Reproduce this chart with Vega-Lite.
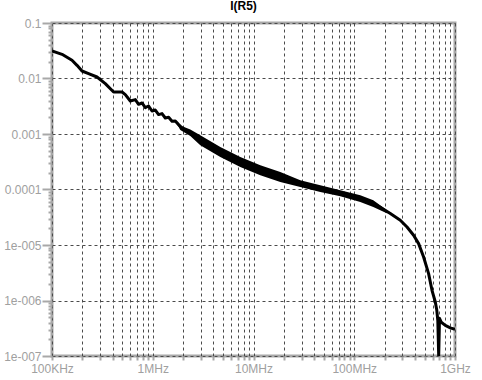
{
  "$schema": "https://vega.github.io/schema/vega-lite/v6.json",
  "width": 403,
  "height": 333,
  "autosize": "none",
  "padding": {"left": 52, "top": 23, "right": 27, "bottom": 24},
  "background": "white",
  "title": {"text": "I(R5)", "font": "Liberation Sans", "fontSize": 12, "fontWeight": "bold", "color": "#000000", "anchor": "middle", "offset": 4, "dx": -10},
  "config": {
    "view": {"stroke": "#a8a8a8", "strokeWidth": 3},
    "axis": {"domain": false, "labelFont": "Liberation Sans", "labelFontSize": 12, "labelColor": "#a0a0a0", "tickColor": "#a8a8a8", "tickWidth": 2, "gridColor": "#4a4a4a", "gridDash": [3, 3], "gridWidth": 1, "title": null}
  },
  "datasets": {
    "curve": [
      {"f": 100000, "i": 0.0313},
      {"f": 125700, "i": 0.02729},
      {"f": 157900, "i": 0.02128},
      {"f": 177100, "i": 0.01728},
      {"f": 198600, "i": 0.01365},
      {"f": 230800, "i": 0.01225},
      {"f": 279700, "i": 0.01064},
      {"f": 338100, "i": 0.00809},
      {"f": 408700, "i": 0.00571},
      {"f": 495300, "i": 0.00571},
      {"f": 534100, "i": 0.00513},
      {"f": 598700, "i": 0.003935},
      {"f": 671200, "i": 0.004169},
      {"f": 723800, "i": 0.003428},
      {"f": 782400, "i": 0.003622},
      {"f": 843700, "i": 0.002992},
      {"f": 909600, "i": 0.003197},
      {"f": 983100, "i": 0.002597},
      {"f": 1060000, "i": 0.002705},
      {"f": 1143400, "i": 0.002239},
      {"f": 1235600, "i": 0.002333},
      {"f": 1332400, "i": 0.001943},
      {"f": 1436600, "i": 0.002},
      {"f": 1553000, "i": 0.001694},
      {"f": 1674500, "i": 0.001714},
      {"f": 1805400, "i": 0.001476},
      {"f": 1965300, "i": 0.001267},
      {"f": 2359000, "i": 0.001073},
      {"f": 2964800, "i": 0.0007698},
      {"f": 3725500, "i": 0.0006003},
      {"f": 4682800, "i": 0.0004739},
      {"f": 5885500, "i": 0.0003804},
      {"f": 7396100, "i": 0.0003129},
      {"f": 9294000, "i": 0.0002618},
      {"f": 11682000, "i": 0.0002218},
      {"f": 14679000, "i": 0.0002042},
      {"f": 18450000, "i": 0.000168},
      {"f": 23190000, "i": 0.0001465},
      {"f": 29140000, "i": 0.0001277},
      {"f": 36630000, "i": 0.0001143},
      {"f": 46030000, "i": 0.0001038},
      {"f": 57850000, "i": 0.0000929},
      {"f": 72700000, "i": 0.0000843},
      {"f": 91380000, "i": 0.0000754},
      {"f": 114820000, "i": 0.0000686},
      {"f": 155650000, "i": 0.0000557},
      {"f": 181400000, "i": 0.0000478},
      {"f": 228000000, "i": 0.0000368},
      {"f": 286500000, "i": 0.0000279},
      {"f": 333900000, "i": 0.0000211},
      {"f": 388300000, "i": 0.00001496},
      {"f": 435400000, "i": 0.00001059},
      {"f": 488000000, "i": 0.00000608},
      {"f": 547000000, "i": 0.00000305},
      {"f": 591100000, "i": 0.000001527},
      {"f": 637600000, "i": 0.00000094},
      {"f": 659800000, "i": 0.000000665},
      {"f": 675000000, "i": 0.00000044},
      {"f": 689000000, "i": 0.0000001},
      {"f": 701800000, "i": 0.000000478},
      {"f": 731100000, "i": 0.000000405},
      {"f": 801000000, "i": 0.000000357},
      {"f": 898300000, "i": 0.000000322},
      {"f": 1000000000, "i": 0.000000303}
    ],
    "band": [
      {"f": 1674500, "hi": 0.00172, "lo": 0.00171},
      {"f": 1877000, "hi": 0.00142, "lo": 0.00118},
      {"f": 2359000, "hi": 0.00120, "lo": 0.00092},
      {"f": 2964800, "hi": 0.0009475, "lo": 0.0006258},
      {"f": 4682800, "hi": 0.000583, "lo": 0.000385},
      {"f": 7396100, "hi": 0.000385, "lo": 0.000254},
      {"f": 11682000, "hi": 0.000273, "lo": 0.00018},
      {"f": 18450000, "hi": 0.0002066, "lo": 0.0001365},
      {"f": 29140000, "hi": 0.0001465, "lo": 0.0001109},
      {"f": 46030000, "hi": 0.0001191, "lo": 0.0000902},
      {"f": 72700000, "hi": 0.0000968, "lo": 0.0000754},
      {"f": 114820000, "hi": 0.0000786, "lo": 0.0000596},
      {"f": 154500000, "hi": 0.0000638, "lo": 0.0000484},
      {"f": 213000000, "hi": 0.0000420, "lo": 0.0000370}
    ]
  },
  "layer": [
    {
      "data": {"name": "band"},
      "mark": {"type": "area", "color": "#000000", "clip": true},
      "encoding": {
        "x": {"field": "f", "type": "quantitative", "scale": {"type": "log", "domain": [100000, 1000000000], "nice": false},
          "axis": {
            "values": [100000,200000,300000,400000,500000,600000,700000,800000,900000,1000000,2000000,3000000,4000000,5000000,6000000,7000000,8000000,9000000,10000000,20000000,30000000,40000000,50000000,60000000,70000000,80000000,90000000,100000000,200000000,300000000,400000000,500000000,600000000,700000000,800000000,900000000,1000000000],
            "labelExpr": "abs(datum.value-1e5)<1 ? '100KHz' : abs(datum.value-1e6)<1 ? '1MHz' : abs(datum.value-1e7)<1 ? '10MHz' : abs(datum.value-1e8)<1 ? '100MHz' : abs(datum.value-1e9)<1 ? '1GHz' : ''",
            "labelOverlap": false,
            "labelFlush": false,
            "tickSize": 4,
            "labelPadding": 3,
            "grid": true
          }},
        "y": {"field": "hi", "type": "quantitative", "scale": {"type": "log", "domain": [1e-7, 0.1], "nice": false},
          "axis": {
            "values": [1e-7,2e-7,3e-7,4e-7,5e-7,6e-7,7e-7,8e-7,9e-7,1e-6,2e-6,3e-6,4e-6,5e-6,6e-6,7e-6,8e-6,9e-6,1e-5,2e-5,3e-5,4e-5,5e-5,6e-5,7e-5,8e-5,9e-5,1e-4,2e-4,3e-4,4e-4,5e-4,6e-4,7e-4,8e-4,9e-4,0.001,0.002,0.003,0.004,0.005,0.006,0.007,0.008,0.009,0.01,0.02,0.03,0.04,0.05,0.06,0.07,0.08,0.09,0.1],
            "labelExpr": "abs(log(datum.value)/LN10 + 1) < 0.001 ? '0.1' : abs(log(datum.value)/LN10 + 2) < 0.001 ? '0.01' : abs(log(datum.value)/LN10 + 3) < 0.001 ? '0.001' : abs(log(datum.value)/LN10 + 4) < 0.001 ? '0.0001' : abs(log(datum.value)/LN10 + 5) < 0.001 ? '1e-005' : abs(log(datum.value)/LN10 + 6) < 0.001 ? '1e-006' : abs(log(datum.value)/LN10 + 7) < 0.001 ? '1e-007' : ''",
            "labelOverlap": false,
            "labelFlush": false,
            "labelPadding": 1,
            "grid": true,
            "gridOpacity": {"condition": {"test": "abs(log(datum.value)/LN10 - round(log(datum.value)/LN10)) < 0.001", "value": 1}, "value": 0},
            "tickSize": {"condition": {"test": "abs(log(datum.value)/LN10 - round(log(datum.value)/LN10)) < 0.001", "value": 10}, "value": 4}
          }},
        "y2": {"field": "lo"}
      }
    },
    {
      "data": {"name": "curve"},
      "mark": {"type": "line", "color": "#000000", "strokeWidth": 3, "clip": true, "strokeJoin": "round"},
      "encoding": {
        "x": {"field": "f", "type": "quantitative"},
        "y": {"field": "i", "type": "quantitative"}
      }
    }
  ]
}
